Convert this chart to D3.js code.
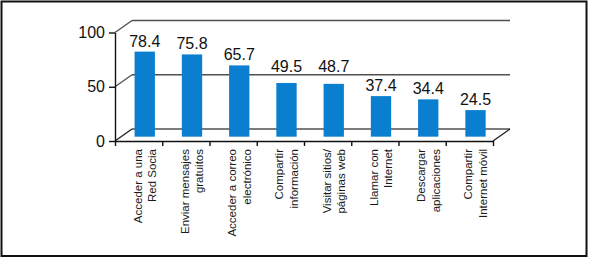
<!DOCTYPE html>
<html>
<head>
<meta charset="utf-8">
<script src="https://cdn.jsdelivr.net/npm/d3@7"></script>
<style>
    body { margin: 0; background: #fff; }
    svg { display: block; }
</style>
</head>
<body>
<script>
// data
var categories = ["red", "mensajes", "correo", "compartir", "visitar", "llamar", "descargar", "movil"];
var values = [78.4, 75.8, 65.7, 49.5, 48.7, 37.4, 34.4, 24.5];
var labelLines = [
    ["Acceder a una", "Red Socia"],
    ["Enviar mensajes", "gratuitos"],
    ["Acceder a correo", "electrónico"],
    ["Compartir", "información"],
    ["Visitar sitios/", "páginas web"],
    ["Llamar con", "Internet"],
    ["Descargar", "aplicaciones"],
    ["Compartir", "Internet móvil"]
];
var yTicks = [0, 50, 100];

(function () {
    var width = 589;
    var height = 259;
    var left = 115, right = 493;
    var bottom = 141, top = 32.5;
    var depthX = 17, depthY = -12;   // 3d wall offset
    var barDepth = 0.36;             // where the bars stand on the floor

    var svg = d3.select("body").append("svg")
        .attr("width", width)
        .attr("height", height);

    svg.append("rect")
        .attr("x", 1.5).attr("y", 1.5)
        .attr("width", 585).attr("height", 254.5)
        .attr("fill", "none")
        .attr("stroke", "#111")
        .attr("stroke-width", 2);

    var xScale = d3.scaleBand()
        .domain(categories)
        .range([left, right])
        .paddingInner(0).paddingOuter(0);
    var xEdges = d3.scaleLinear()
        .domain([0, categories.length])
        .range([left, right]);
    var yScale = d3.scaleLinear()
        .domain([0, 100])
        .range([bottom, top]);

    var grid = "#505050";

    // back wall gridlines + diagonals
    var walls = svg.append("g");
    yTicks.forEach((t) => {
        var y = yScale(t);
        walls.append("line")
            .attr("x1", left + depthX).attr("y1", y + depthY)
            .attr("x2", right + depthX).attr("y2", y + depthY)
            .attr("stroke", grid).attr("stroke-width", 1.6);
        walls.append("line")
            .attr("x1", left).attr("y1", y)
            .attr("x2", left + depthX).attr("y2", y + depthY)
            .attr("stroke", t == 0 ? "#222" : grid).attr("stroke-width", 1.4);
    });
    // right floor edge
    walls.append("line")
        .attr("x1", right).attr("y1", bottom)
        .attr("x2", right + depthX).attr("y2", bottom + depthY)
        .attr("stroke", "#222").attr("stroke-width", 1.4);

    // bars
    var bx = depthX * barDepth, by = depthY * barDepth;
    var barW = xScale.bandwidth() * 0.43;
    svg.append("g")
        .selectAll("rect")
        .data(values)
        .enter()
        .append("rect")
        .attr("x", (d, i) => xScale(categories[i]) + xScale.bandwidth() / 2 + bx - barW / 2)
        .attr("y", (d) => yScale(d) + by)
        .attr("width", barW)
        .attr("height", (d) => yScale(0) - yScale(d))
        .attr("fill", "#0b7fcf");

    // value labels, lifted above a gridline when they would sit on it
    var gridYs = yTicks.filter((t) => t > 0).map((t) => yScale(t) + depthY);
    function labelY(v) {
        var base = yScale(v) + by - 5;
        gridYs.forEach((g) => {
            if (base > g - 1 && base - 12 < g + 1) base = g - 3;
        });
        return base;
    }
    svg.append("g")
        .selectAll("text")
        .data(values)
        .enter()
        .append("text")
        .attr("x", (d, i) => xScale(categories[i]) + xScale.bandwidth() / 2 + bx)
        .attr("y", (d) => labelY(d))
        .attr("text-anchor", "middle")
        .style("font-family", "Liberation Sans, Arial, sans-serif")
        .style("font-size", "16px")
        .style("fill", "#111")
        .text((d) => d.toFixed(1));

    // y axis
    var yAxis = svg.append("g")
        .attr("transform", "translate(" + left + ",0)")
        .call(d3.axisLeft(yScale).tickValues(yTicks).tickSize(6).tickSizeOuter(0).tickPadding(4));
    yAxis.selectAll("text")
        .style("font-family", "Liberation Sans, Arial, sans-serif")
        .style("font-size", "16px")
        .style("fill", "#111");
    yAxis.selectAll("line, path").attr("stroke", "#111").attr("stroke-width", 1.4);

    // x axis, ticks on category edges
    var xAxis = svg.append("g")
        .attr("transform", "translate(0," + bottom + ")")
        .call(d3.axisBottom(xEdges).tickValues(d3.range(categories.length + 1)).tickSize(5).tickSizeOuter(0).tickFormat(""));
    xAxis.selectAll("line, path").attr("stroke", "#111").attr("stroke-width", 1.4);

    // category labels
    var labels = svg.append("g")
        .selectAll("text")
        .data(labelLines)
        .enter()
        .append("text")
        .attr("transform", (d, i) => "translate(" + (xScale(categories[i]) + xScale.bandwidth() / 2 + 3) + "," + 149 + ") rotate(-90)")
        .attr("text-anchor", "end")
        .style("font-family", "Liberation Sans, Arial, sans-serif")
        .style("font-size", "11.5px")
        .style("fill", "#1a1a1a");
    labels.selectAll("tspan")
        .data((d) => d)
        .enter()
        .append("tspan")
        .attr("x", 0)
        .attr("dy", (d, j) => j == 0 ? 0 : 14.5)
        .text((d) => d);
})();
</script>
</body>
</html>
